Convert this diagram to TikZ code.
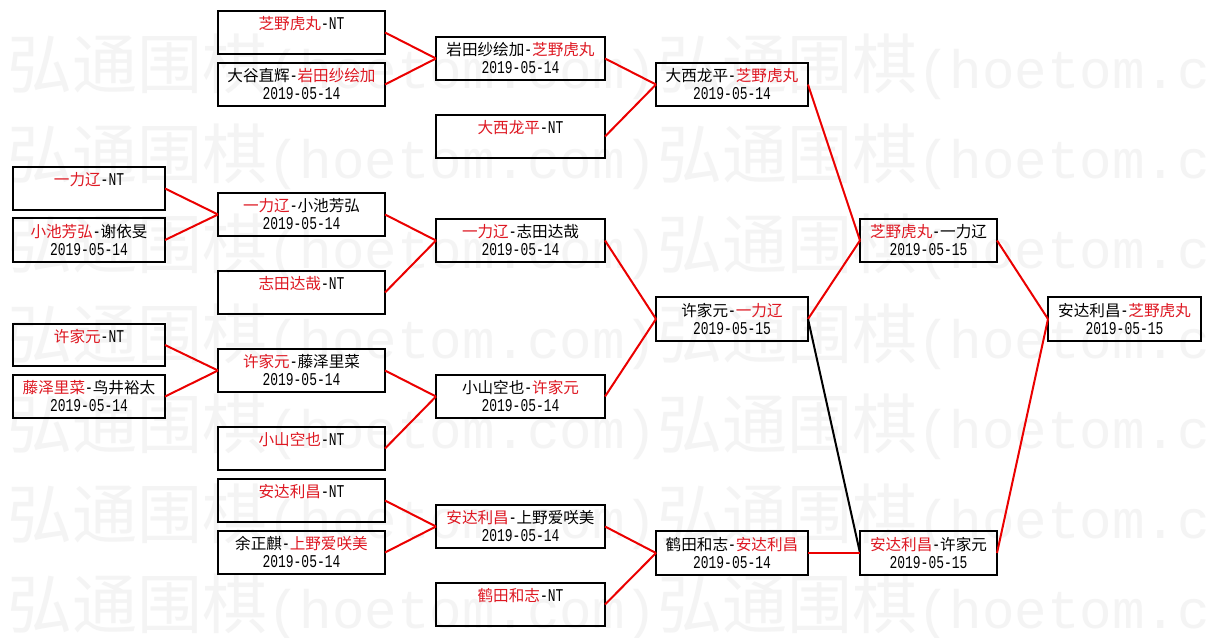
\documentclass[tikz,border=0pt]{standalone}
\usepackage{fontspec}
\setmainfont{Liberation Mono}[FakeStretch=0.72]
\newfontfamily\cjkf{Noto Sans CJK SC}
\newfontfamily\wmmono{Liberation Mono}
\definecolor{tred}{RGB}{222,24,34}
\definecolor{lred}{RGB}{235,0,0}
\definecolor{wmcol}{RGB}{244,244,244}
\newcommand{\K}[1]{{\cjkf\fontsize{15.6}{18}\selectfont #1}}
\newcommand{\Rd}[1]{{\cjkf\fontsize{15.6}{18}\selectfont\color{tred}#1}}
\newcommand{\twol}[2]{\begin{tabular}[t]{@{}c@{}}#1\\#2\end{tabular}}
\newcommand{\bx}[6]{\node[box, minimum width={#4-#2-2}, minimum height={#5-#3-2}] (#1) at ({(#2+#4)/2},{(#3+#5)/2}) {#6};}
\begin{document}
\begin{tikzpicture}[x=1pt,y=-1pt,
  box/.style={draw=black, line width=2.5pt, inner sep=0pt, outer sep=0pt,
    text height=10pt, text depth=15.2pt, font=\fontsize{18}{18}\selectfont},
  wmk/.style={text=wmcol, inner sep=0pt, outer sep=0pt, anchor=base west},
  link/.style={draw=lred, line width=2pt},
  loser/.style={draw=black, line width=2pt}]
\fill[white] (0,0) rectangle (1212,637);
\useasboundingbox (0,0) rectangle (1212,637);
% watermark
\begin{scope}
\clip (0,0) rectangle (1212,637);
\foreach \i in {0,...,6}{
  \foreach \j in {0,1}{
    \node[wmk] (wm-\i-\j) at ({7+650*\j},{88+90*\i})
      {{\cjkf\fontsize{65}{65}\selectfont 弘通围棋}{\wmmono\fontsize{54.2}{65}\selectfont(hoetom.com)}};
  }}
\end{scope}
% column A
\bx{a1}{12}{166}{166}{211}{\Rd{一力辽}-NT}
\bx{a2}{12}{217}{166}{263}{\twol{\Rd{小池芳弘}-\K{谢依旻}}{2019-05-14}}
\bx{a3}{12}{323}{166}{367}{\Rd{许家元}-NT}
\bx{a4}{12}{374}{166}{419}{\twol{\Rd{藤泽里菜}-\K{鸟井裕太}}{2019-05-14}}
% column B
\bx{b1}{217}{10}{386}{55}{\Rd{芝野虎丸}-NT}
\bx{b2}{217}{62}{386}{107}{\twol{\K{大谷直辉}-\Rd{岩田纱绘加}}{2019-05-14}}
\bx{b3}{217}{192}{386}{237}{\twol{\Rd{一力辽}-\K{小池芳弘}}{2019-05-14}}
\bx{b4}{217}{270}{386}{315}{\Rd{志田达哉}-NT}
\bx{b5}{217}{348}{386}{393}{\twol{\Rd{许家元}-\K{藤泽里菜}}{2019-05-14}}
\bx{b6}{217}{426}{386}{471}{\Rd{小山空也}-NT}
\bx{b7}{217}{478}{386}{523}{\Rd{安达利昌}-NT}
\bx{b8}{217}{530}{386}{575}{\twol{\K{余正麒}-\Rd{上野爱咲美}}{2019-05-14}}
% column C
\bx{c1}{435}{36}{606}{81}{\twol{\K{岩田纱绘加}-\Rd{芝野虎丸}}{2019-05-14}}
\bx{c2}{435}{114}{606}{159}{\Rd{大西龙平}-NT}
\bx{c3}{435}{218}{606}{263}{\twol{\Rd{一力辽}-\K{志田达哉}}{2019-05-14}}
\bx{c4}{435}{374}{606}{419}{\twol{\K{小山空也}-\Rd{许家元}}{2019-05-14}}
\bx{c5}{435}{504}{606}{549}{\twol{\Rd{安达利昌}-\K{上野爱咲美}}{2019-05-14}}
\bx{c6}{435}{582}{606}{627}{\Rd{鹤田和志}-NT}
% column D
\bx{d1}{655}{62}{809}{107}{\twol{\K{大西龙平}-\Rd{芝野虎丸}}{2019-05-14}}
\bx{d2}{655}{296}{809}{342}{\twol{\K{许家元}-\Rd{一力辽}}{2019-05-15}}
\bx{d3}{655}{530}{809}{576}{\twol{\K{鹤田和志}-\Rd{安达利昌}}{2019-05-14}}
% column E
\bx{e1}{859}{218}{998}{263}{\twol{\Rd{芝野虎丸}-\K{一力辽}}{2019-05-15}}
\bx{e2}{859}{530}{998}{576}{\twol{\Rd{安达利昌}-\K{许家元}}{2019-05-15}}
% column F
\bx{f1}{1047}{296}{1202}{342}{\twol{\K{安达利昌}-\Rd{芝野虎丸}}{2019-05-15}}
% connectors
\draw[link] (b1.east) -- (c1.west);
\draw[link] (b2.east) -- (c1.west);
\draw[link] (c1.east) -- (d1.west);
\draw[link] (c2.east) -- (d1.west);
\draw[link] (d1.east) -- (e1.west);
\draw[link] (a1.east) -- (b3.west);
\draw[link] (a2.east) -- (b3.west);
\draw[link] (b3.east) -- (c3.west);
\draw[link] (b4.east) -- (c3.west);
\draw[link] (c3.east) -- (d2.west);
\draw[link] (a3.east) -- (b5.west);
\draw[link] (a4.east) -- (b5.west);
\draw[link] (b5.east) -- (c4.west);
\draw[link] (b6.east) -- (c4.west);
\draw[link] (c4.east) -- (d2.west);
\draw[link] (d2.east) -- (e1.west);
\draw[loser] (d2.east) -- (e2.west);
\draw[link] (b7.east) -- (c5.west);
\draw[link] (b8.east) -- (c5.west);
\draw[link] (c5.east) -- (d3.west);
\draw[link] (c6.east) -- (d3.west);
\draw[link] (d3.east) -- (e2.west);
\draw[link] (e1.east) -- (f1.west);
\draw[link] (e2.east) -- (f1.west);
\end{tikzpicture}
\end{document}
